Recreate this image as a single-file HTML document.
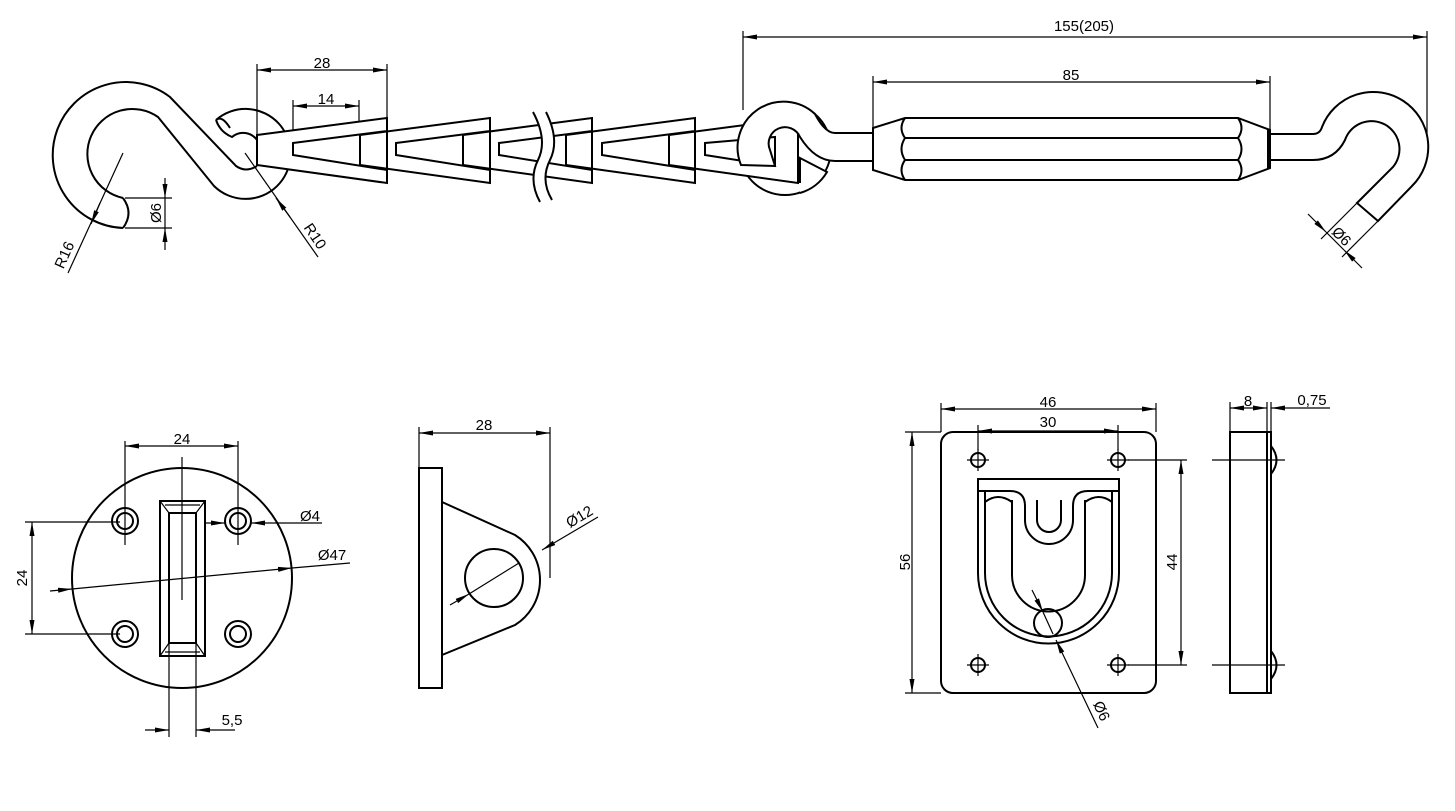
<!DOCTYPE html>
<html><head><meta charset="utf-8"><style>
html,body{margin:0;padding:0;background:#fff}
svg{display:block}
text{font-family:"Liberation Sans",sans-serif;font-size:15px;fill:#000}
</style></head><body>
<svg width="1455" height="811" viewBox="0 0 1455 811" xmlns="http://www.w3.org/2000/svg">
<defs>
<marker id="a" viewBox="0 0 14 6" refX="14" refY="3" markerWidth="14" markerHeight="6" markerUnits="userSpaceOnUse" orient="auto-start-reverse"><path d="M0,0.5 L14,3 L0,5.5Z" fill="#000"/></marker>
</defs>
<g fill="none" stroke="#000" stroke-width="1.2">
<line x1="743" y1="37" x2="1427" y2="37" marker-start="url(#a)" marker-end="url(#a)"/>
<line x1="743" y1="31" x2="743" y2="110"/><line x1="1427" y1="31" x2="1427" y2="135"/>
<line x1="873" y1="82" x2="1270" y2="82" marker-start="url(#a)" marker-end="url(#a)"/>
<line x1="873" y1="76" x2="873" y2="128"/><line x1="1270" y1="76" x2="1270" y2="130"/>
<line x1="257" y1="70" x2="387" y2="70" marker-start="url(#a)" marker-end="url(#a)"/>
<line x1="257" y1="64" x2="257" y2="135"/><line x1="387" y1="64" x2="387" y2="118"/>
<line x1="293" y1="106" x2="359" y2="106" marker-start="url(#a)" marker-end="url(#a)"/>
<line x1="293" y1="100" x2="293" y2="143"/><line x1="359" y1="100" x2="359" y2="135"/>
<line x1="165" y1="178" x2="165" y2="198" marker-end="url(#a)"/>
<line x1="165" y1="250" x2="165" y2="228" marker-end="url(#a)"/>
<line x1="165" y1="198" x2="165" y2="228"/>
<line x1="125" y1="198" x2="172" y2="198"/><line x1="125" y1="228" x2="172" y2="228"/>
<line x1="68" y1="273" x2="123" y2="153"/>
<line x1="100" y1="203" x2="91" y2="224" marker-end="url(#a)"/>
<line x1="318" y1="257" x2="245" y2="153"/>
<line x1="290" y1="217" x2="276" y2="198" marker-end="url(#a)"/>
<line x1="1308" y1="214" x2="1326" y2="232" marker-end="url(#a)"/>
<line x1="1362" y1="268" x2="1344" y2="250" marker-end="url(#a)"/>
<line x1="1326" y1="232" x2="1344" y2="250"/>
<line x1="1357" y1="203" x2="1321" y2="239"/><line x1="1378" y1="221" x2="1342" y2="257"/>
</g>
<g fill="none" stroke="#000" stroke-width="2">
<path d="M123,228 A73,73 0 1 1 170,97 L236,166 Q246,173 257,166"/>
<path d="M123,198 A45,45 0 1 1 158,117 L214,186 A45,45 0 1 0 216,120"/>
<path d="M216,120 Q220,132 232,137 A17,17 0 0 1 257,140"/>
<path d="M123,198 Q134,213 123,228"/>
<path d="M216,120 Q222,115 230,128"/>
</g>
<g stroke="#000" stroke-width="2" fill="#fff" fill-rule="evenodd">
<circle cx="785" cy="149" r="46"/>
<path d="M669,135 L798,118 L798,183 L669,165Z M705,143 L775,137 L775,166 L705,155Z"/>
<path d="M566,135 L695,118 L695,183 L566,165Z M602,143 L695,131 L695,170 L602,155Z"/>
<path d="M463,135 L592,118 L592,183 L463,165Z M499,143 L592,131 L592,170 L499,155Z"/>
<path d="M360,135 L490,118 L490,183 L360,165Z M396,143 L490,131 L490,170 L396,155Z"/>
<path d="M257,135 L387,118 L387,183 L257,165Z M293,143 L387,131 L387,170 L293,155Z"/>
</g>
<g stroke="#000" stroke-width="2" fill="#fff">
<path d="M741,165 A46,46 0 0 1 815,114 Q825,133 835,133 L873,133 L873,161 L835,161 Q815,161 800,137 A16,16 0 0 0 770,150 L775,166 L741,165Z"/>
<path d="M800,158 L800,205 L827,172Z" stroke="none"/>
<path d="M800,183 L800,158 L827,172 A46,46 0 0 1 800,193" fill="none"/>
<line x1="798" y1="137" x2="798" y2="183"/>
</g>
<path d="M533,112 Q548,140 538,160 Q528,180 540,202 L552,200 Q540,180 550,160 Q560,140 546,112Z" fill="#fff" stroke="none"/>
<g fill="none" stroke="#000" stroke-width="2">
<path d="M533,112 Q548,140 538,160 Q528,180 540,202"/>
<path d="M546,112 Q560,140 550,160 Q540,180 552,200"/>
<path d="M873,128 L905,118 L1238,118 L1270,130 L1270,168 L1238,180 L905,180 L873,170Z"/>
<line x1="873" y1="128" x2="873" y2="170"/>
<line x1="905" y1="138" x2="1238" y2="138"/><line x1="905" y1="160" x2="1238" y2="160"/>
<path d="M905,118 Q898,128 905,138 Q898,149 905,160 Q898,170 905,180"/>
<path d="M1238,118 Q1245,128 1238,138 Q1245,149 1238,160 Q1245,170 1238,180"/>
<line x1="1268" y1="130" x2="1268" y2="168"/>
<path d="M1270,134 L1313,134 Q1320,134 1322,127 A55,55 0 1 1 1412,186 L1378,221 L1357,203 L1393,167 A28,28 0 1 0 1345,140 Q1335,160 1313,160 L1270,160"/>
</g>
<g fill="none" stroke="#000" stroke-width="2">
<circle cx="182" cy="578" r="110"/>
<circle cx="125" cy="521" r="13"/><circle cx="125" cy="521" r="8"/>
<circle cx="238" cy="521" r="13"/><circle cx="238" cy="521" r="8"/>
<circle cx="125" cy="634" r="13"/><circle cx="125" cy="634" r="8"/>
<circle cx="238" cy="634" r="13"/><circle cx="238" cy="634" r="8"/>
<rect x="160" y="501" width="45" height="155"/>
<rect x="169" y="513" width="27" height="130"/>
</g>
<g fill="none" stroke="#000" stroke-width="1.2">
<line x1="160" y1="501" x2="169" y2="513"/><line x1="205" y1="501" x2="196" y2="513"/>
<line x1="160" y1="656" x2="169" y2="643"/><line x1="205" y1="656" x2="196" y2="643"/>
<line x1="165" y1="505" x2="200" y2="505"/><line x1="165" y1="652" x2="200" y2="652"/>
<line x1="182" y1="457" x2="182" y2="600"/>
<line x1="125" y1="446" x2="238" y2="446" marker-start="url(#a)" marker-end="url(#a)"/>
<line x1="125" y1="441" x2="125" y2="545"/><line x1="238" y1="441" x2="238" y2="545"/>
<line x1="32" y1="522" x2="32" y2="634" marker-start="url(#a)" marker-end="url(#a)"/>
<line x1="25" y1="522" x2="120" y2="522"/><line x1="25" y1="634" x2="120" y2="634"/>
<line x1="205" y1="523" x2="225" y2="523" marker-end="url(#a)"/>
<line x1="322" y1="523" x2="251" y2="523" marker-end="url(#a)"/>
<line x1="50" y1="591" x2="72" y2="589" marker-end="url(#a)"/>
<line x1="72" y1="589" x2="292" y2="568" marker-end="url(#a)"/>
<line x1="292" y1="568" x2="350" y2="563"/>
<line x1="169" y1="640" x2="169" y2="737"/><line x1="196" y1="640" x2="196" y2="737"/>
<line x1="145" y1="730" x2="169" y2="730" marker-end="url(#a)"/>
<line x1="235" y1="730" x2="196" y2="730" marker-end="url(#a)"/>
</g>
<g fill="none" stroke="#000" stroke-width="2">
<rect x="419" y="468" width="23" height="220"/>
<path d="M442,502 L515,535 A53,53 0 0 1 515,625 L442,655"/>
<circle cx="494" cy="578" r="29"/>
</g>
<g fill="none" stroke="#000" stroke-width="1.2">
<line x1="419" y1="433" x2="550" y2="433" marker-start="url(#a)" marker-end="url(#a)"/>
<line x1="419" y1="427" x2="419" y2="468"/><line x1="550" y1="427" x2="550" y2="578"/>
<line x1="450" y1="605" x2="469" y2="594" marker-end="url(#a)"/>
<line x1="469" y1="594" x2="519" y2="563"/>
<line x1="598" y1="517" x2="542" y2="550" marker-end="url(#a)"/>
</g>
<g fill="none" stroke="#000" stroke-width="2">
<rect x="941" y="432" width="215" height="261" rx="12"/>
<circle cx="978" cy="460" r="7"/><circle cx="1118" cy="460" r="7"/>
<circle cx="978" cy="665" r="7"/><circle cx="1118" cy="665" r="7"/>
<path d="M978,479 L1119,479 L1119,573 A70.5,70.5 0 0 1 978,573Z"/>
<path d="M985,491 L985,573 A63.5,63.5 0 0 0 1112,573 L1112,491"/>
<path d="M978,491 L1010,491 Q1025,491 1025,506 L1025,520 A24,24 0 0 0 1073,520 L1073,506 Q1073,491 1088,491 L1119,491"/>
<path d="M985,502 Q998,492 1012,502 M1085,502 Q1099,492 1112,502"/>
<path d="M1037,500 L1037,520 A12,12 0 0 0 1061,520 L1061,500"/>
<path d="M1012,500 L1012,575 A36.5,36.5 0 0 0 1085,575 L1085,500"/>
<circle cx="1048" cy="623" r="14"/>
<rect x="1230" y="432" width="37" height="261"/>
<rect x="1267" y="432" width="4" height="261"/>
<path d="M1271,446 Q1282,460 1271,474 M1271,651 Q1282,665 1271,679"/>
</g>
<g fill="none" stroke="#000" stroke-width="1.2">
<path d="M967,460 H989 M978,449 V471 M1107,460 H1129 M1118,449 V471 M967,665 H989 M978,654 V676 M1107,665 H1129 M1118,654 V676"/>
<line x1="941" y1="409" x2="1156" y2="409" marker-start="url(#a)" marker-end="url(#a)"/>
<line x1="941" y1="403" x2="941" y2="432"/><line x1="1156" y1="403" x2="1156" y2="432"/>
<line x1="978" y1="431" x2="1118" y2="431" marker-start="url(#a)" marker-end="url(#a)"/>
<line x1="978" y1="425" x2="978" y2="450"/><line x1="1118" y1="425" x2="1118" y2="450"/>
<line x1="912" y1="432" x2="912" y2="693" marker-start="url(#a)" marker-end="url(#a)"/>
<line x1="905" y1="432" x2="941" y2="432"/><line x1="905" y1="693" x2="941" y2="693"/>
<line x1="1181" y1="460" x2="1181" y2="665" marker-start="url(#a)" marker-end="url(#a)"/>
<line x1="1128" y1="460" x2="1187" y2="460"/><line x1="1128" y1="665" x2="1187" y2="665"/>
<line x1="1032" y1="590" x2="1043" y2="612" marker-end="url(#a)"/>
<line x1="1043" y1="612" x2="1053" y2="634"/>
<line x1="1098" y1="728" x2="1056" y2="640" marker-end="url(#a)"/>
<line x1="1212" y1="460" x2="1285" y2="460"/><line x1="1212" y1="665" x2="1285" y2="665"/>
<line x1="1230" y1="402" x2="1230" y2="432"/><line x1="1267" y1="402" x2="1267" y2="432"/><line x1="1271" y1="402" x2="1271" y2="432"/>
<line x1="1230" y1="408" x2="1267" y2="408" marker-start="url(#a)" marker-end="url(#a)"/>
<line x1="1300" y1="408" x2="1271" y2="408" marker-end="url(#a)"/>
<line x1="1300" y1="408" x2="1330" y2="408"/>
</g>
<text x="1084" y="31" text-anchor="middle">155(205)</text>
<text x="1071" y="80" text-anchor="middle">85</text>
<text x="322" y="68" text-anchor="middle">28</text>
<text x="326" y="104" text-anchor="middle">14</text>
<text transform="translate(161,213) rotate(-90)" text-anchor="middle">Ø6</text>
<text transform="translate(69,257) rotate(-66)" text-anchor="middle">R16</text>
<text transform="translate(311,239) rotate(56)" text-anchor="middle">R10</text>
<text transform="translate(1338,240) rotate(45)" text-anchor="middle">Ø6</text>
<text x="182" y="444" text-anchor="middle">24</text>
<text transform="translate(27,578) rotate(-90)" text-anchor="middle">24</text>
<text x="310" y="521" text-anchor="middle">Ø4</text>
<text x="332" y="560" text-anchor="middle">Ø47</text>
<text x="232" y="725" text-anchor="middle">5,5</text>
<text x="484" y="430" text-anchor="middle">28</text>
<text transform="translate(582,521) rotate(-31)" text-anchor="middle">Ø12</text>
<text x="1048" y="407" text-anchor="middle">46</text>
<text x="1048" y="427" text-anchor="middle">30</text>
<text transform="translate(910,562) rotate(-90)" text-anchor="middle">56</text>
<text transform="translate(1177,562) rotate(-90)" text-anchor="middle">44</text>
<text transform="translate(1097,713) rotate(66)" text-anchor="middle">Ø6</text>
<text x="1248" y="406" text-anchor="middle">8</text>
<text x="1312" y="405" text-anchor="middle">0,75</text>
</svg>
</body></html>
